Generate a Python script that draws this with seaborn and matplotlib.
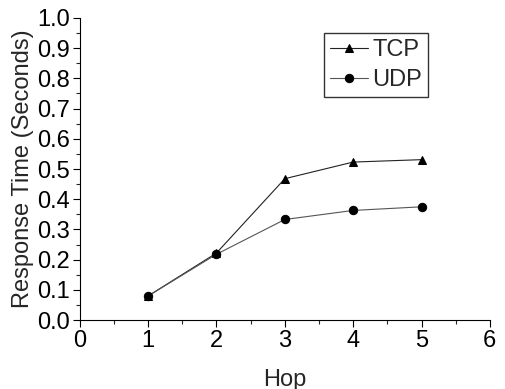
import pandas as pd
import matplotlib.pyplot as plt
import seaborn as sns
from matplotlib.ticker import MultipleLocator

# Values
hops = [1, 2, 3, 4, 5]
tcp = [0.08, 0.222, 0.468, 0.523, 0.531]
udp = [0.08, 0.218, 0.333, 0.363, 0.375]

df = pd.DataFrame({
    'Hop': hops * 2,
    'Response': tcp + udp,
    'Protocol': ['TCP'] * len(hops) + ['UDP'] * len(hops),
})

sns.set_style('ticks')
plt.rcParams['font.family'] = ['Liberation Sans', 'DejaVu Sans']

fig = plt.figure(figsize=(5.05, 3.89), dpi=100)
ax = fig.add_axes([0.158, 0.177, 0.812, 0.777])

sns.lineplot(data=df, x='Hop', y='Response', hue='Protocol', style='Protocol',
             markers={'TCP': '^', 'UDP': 'o'}, dashes=False,
             palette={'TCP': '#222222', 'UDP': '#555555'},
             linewidth=0.8, markersize=6, markeredgecolor='black',
             ax=ax)
for line in ax.lines:
    line.set_markerfacecolor('black')

ax.set_xlim(0, 6)
ax.set_ylim(0, 1.0)
ax.xaxis.set_major_locator(MultipleLocator(1))
ax.xaxis.set_minor_locator(MultipleLocator(0.5))
ax.yaxis.set_major_locator(MultipleLocator(0.1))
ax.yaxis.set_minor_locator(MultipleLocator(0.05))
ax.yaxis.set_major_formatter(plt.FormatStrFormatter('%.1f'))
ax.tick_params(which='major', direction='out', length=5, width=0.8, labelsize=17, colors='black', pad=2)
ax.tick_params(which='minor', direction='out', length=3, width=0.8)
sns.despine(ax=ax)
for s in ('left', 'bottom'):
    ax.spines[s].set_color('black')
    ax.spines[s].set_linewidth(0.8)

ax.set_xlabel('Hop', fontsize=17, labelpad=12)
ax.set_ylabel('Response Time (Seconds)', fontsize=17, labelpad=2)

leg = ax.legend(loc='upper right', bbox_to_anchor=(0.849, 0.95), fontsize=17,
                frameon=True, fancybox=False, edgecolor='black',
                handlelength=1.6, handletextpad=0.2, borderpad=0.25, labelspacing=0.35,
                borderaxespad=0)
leg.get_frame().set_linewidth(1.0)
for h in leg.legend_handles:
    h.set_markerfacecolor('black')

fig.savefig('out.png', dpi=100)
